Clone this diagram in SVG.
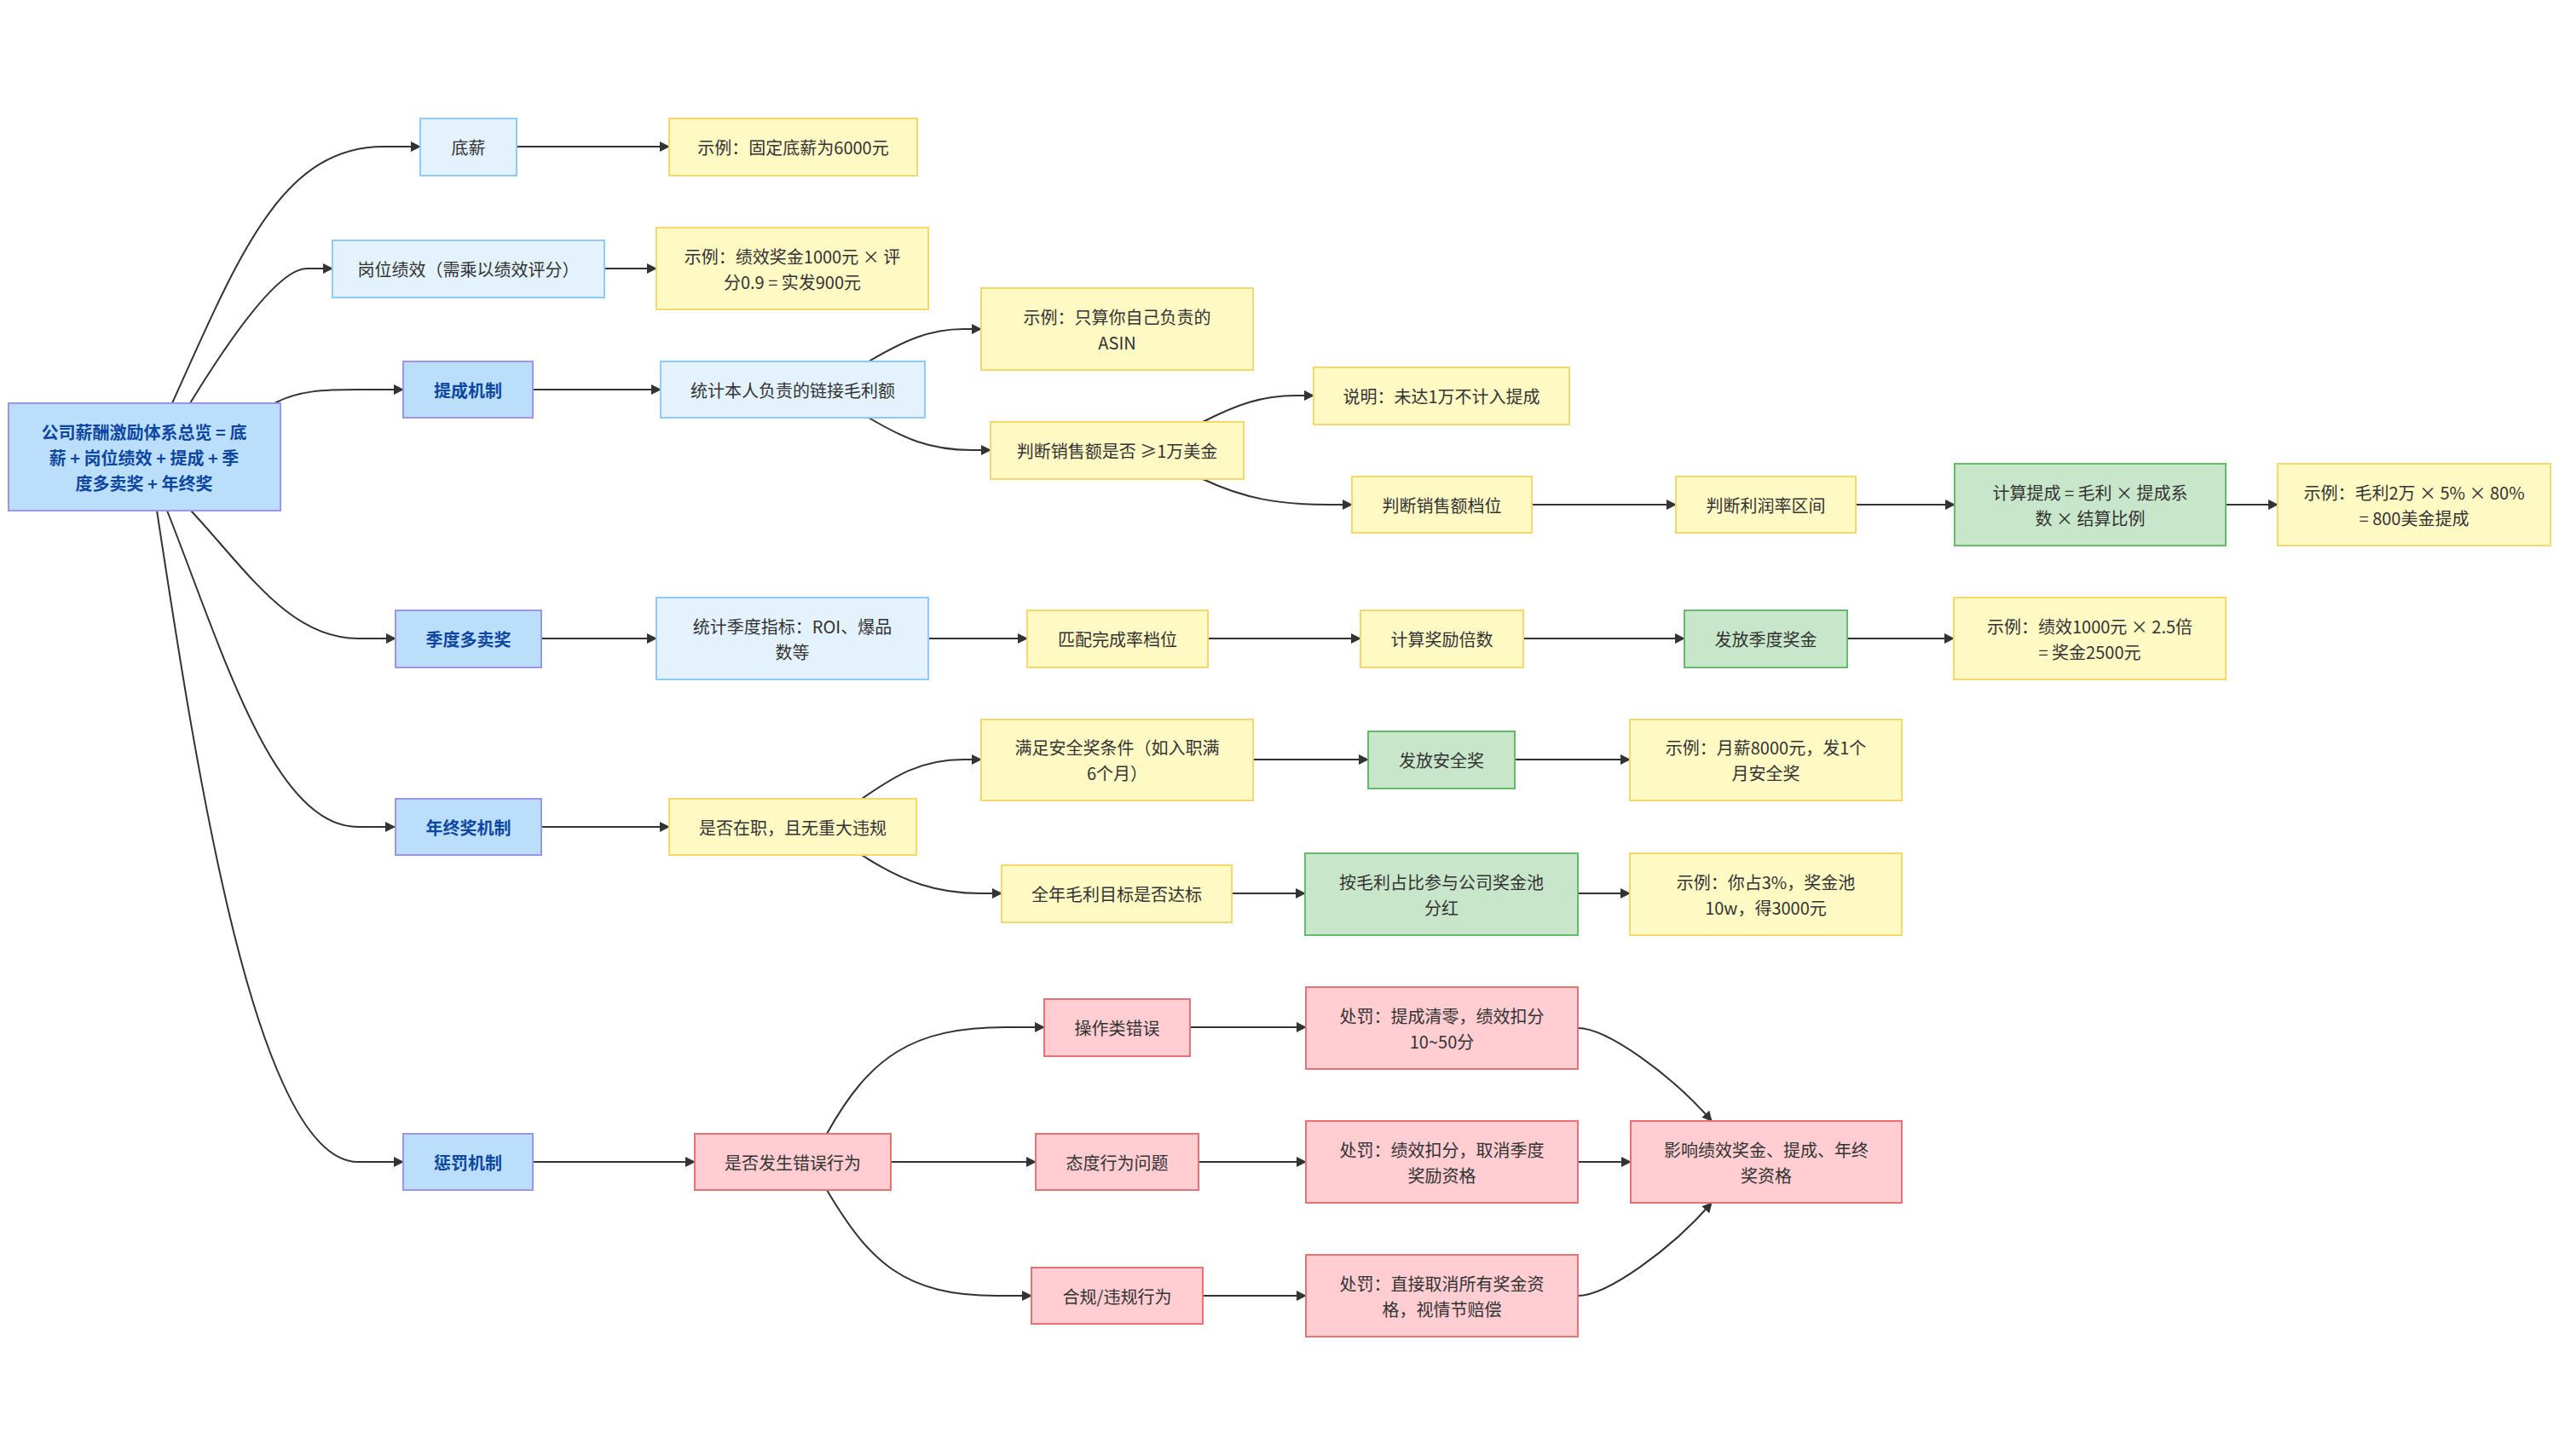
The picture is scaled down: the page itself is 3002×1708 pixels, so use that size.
<svg xmlns="http://www.w3.org/2000/svg" width="3002" height="1708" viewBox="0 0 3002 1708">
<style>
text{font-family:"Noto Sans CJK SC","Noto Sans",sans-serif;font-size:20px;fill:#333;text-anchor:middle;dominant-baseline:central}
.cat rect{fill:#bbdefb;stroke:#9e94e8;stroke-width:2}
.cat text{fill:#0d47a1;font-weight:bold}
.lb rect{fill:#e3f2fd;stroke:#90caf9;stroke-width:2}
.yl rect{fill:#fff9c4;stroke:#f5d76e;stroke-width:2}
.gr rect{fill:#c8e6c9;stroke:#66bb6a;stroke-width:2}
.pk rect{fill:#ffcdd2;stroke:#e57373;stroke-width:2}
#edges path{fill:none;stroke:#333;stroke-width:2;marker-end:url(#arr)}
</style>
<defs>
<marker id="arr" markerUnits="userSpaceOnUse" markerWidth="12" markerHeight="12" refX="11" refY="6" orient="auto">
<path d="M0,0 L12,6 L0,12 z" fill="#333"/>
</marker>
</defs>
<rect width="3002" height="1708" fill="#fff"/>
<g id="edges">
<path d="M202,473 C280,300 330,172 450,172 L493,172"/>
<path d="M223,473 C280,380 330,315 360,315 L390,315"/>
<path d="M322,473 C350,458 380,457 420,457 L473,457"/>
<path d="M224,599 C290,670 340,749 420,749 L464,749"/>
<path d="M196,599 C260,760 320,970 420,970 L463,970"/>
<path d="M184,599 C230,900 300,1363 420,1363 L473,1363"/>
<path d="M606,172 L785,172"/>
<path d="M709,315 L770,315"/>
<path d="M625,457 L775,457"/>
<path d="M1019,424 C1060,400 1090,386 1130,386 L1151,386"/>
<path d="M1019,490 C1060,514 1090,528 1140,528 L1162,528"/>
<path d="M1411,495 C1450,475 1480,464 1520,464 L1541,464"/>
<path d="M1411,562 C1460,585 1500,592 1560,592 L1586,592"/>
<path d="M1797,592 L1966,592"/>
<path d="M2177,592 L2293,592"/>
<path d="M2611,592 L2672,592"/>
<path d="M635,749 L770,749"/>
<path d="M1089,749 L1205,749"/>
<path d="M1417,749 L1596,749"/>
<path d="M1787,749 L1976,749"/>
<path d="M2167,749 L2292,749"/>
<path d="M635,970 L785,970"/>
<path d="M1011,937 C1050,910 1080,891 1130,891 L1151,891"/>
<path d="M1011,1003 C1060,1035 1100,1048 1150,1048 L1175,1048"/>
<path d="M1470,891 L1605,891"/>
<path d="M1777,891 L1912,891"/>
<path d="M1445,1048 L1531,1048"/>
<path d="M1851,1048 L1912,1048"/>
<path d="M625,1363 L815,1363"/>
<path d="M970,1330 C1020,1240 1070,1205 1180,1205 L1225,1205"/>
<path d="M1045,1363 L1215,1363"/>
<path d="M970,1396 C1020,1480 1060,1520 1170,1520 L1210,1520"/>
<path d="M1396,1205 L1532,1205"/>
<path d="M1406,1363 L1532,1363"/>
<path d="M1411,1520 L1532,1520"/>
<path d="M1851,1206 C1885,1206 1960,1260 2008,1315"/>
<path d="M1851,1363 L1913,1363"/>
<path d="M1851,1520 C1885,1520 1960,1466 2008,1411"/>
</g>
<g id="root" class="cat"><rect x="10" y="473" width="319" height="126"/><text x="169" y="506">公司薪酬激励体系总览 = 底</text><text x="169" y="536">薪 + 岗位绩效 + 提成 + 季</text><text x="169" y="566">度多卖奖 + 年终奖</text></g>
<g id="dixin" class="lb"><rect x="493" y="139" width="113" height="67"/><text x="549.5" y="172.5">底薪</text></g>
<g id="gangwei" class="lb"><rect x="390" y="282" width="319" height="67"/><text x="549.5" y="315.5">岗位绩效（需乘以绩效评分）</text></g>
<g id="ticheng" class="cat"><rect x="473" y="424" width="152" height="66"/><text x="549" y="457">提成机制</text></g>
<g id="jidu" class="cat"><rect x="464" y="716" width="171" height="67"/><text x="549.5" y="749.5">季度多卖奖</text></g>
<g id="nianzhong" class="cat"><rect x="464" y="937" width="171" height="66"/><text x="549.5" y="970">年终奖机制</text></g>
<g id="chengfa" class="cat"><rect x="473" y="1330" width="152" height="66"/><text x="549" y="1363">惩罚机制</text></g>
<g id="ex1" class="yl"><rect x="785" y="139" width="291" height="67"/><text x="930.5" y="172.5">示例：固定底薪为6000元</text></g>
<g id="ex2" class="yl"><rect x="770" y="267" width="319" height="96"/><text x="929.5" y="300">示例：绩效奖金1000元 × 评</text><text x="929.5" y="330">分0.9 = 实发900元</text></g>
<g id="tongji" class="lb"><rect x="775" y="424" width="310" height="66"/><text x="930" y="457">统计本人负责的链接毛利额</text></g>
<g id="asin" class="yl"><rect x="1151" y="338" width="319" height="96"/><text x="1310.5" y="371">示例：只算你自己负责的</text><text x="1310.5" y="401">ASIN</text></g>
<g id="panduan1" class="yl"><rect x="1162" y="495" width="297" height="67"/><text x="1310.5" y="528.5">判断销售额是否 ≥1万美金</text></g>
<g id="shuoming" class="yl"><rect x="1541" y="431" width="300" height="67"/><text x="1691" y="464.5">说明：未达1万不计入提成</text></g>
<g id="dangwei" class="yl"><rect x="1586" y="559" width="211" height="66"/><text x="1691.5" y="592">判断销售额档位</text></g>
<g id="lirun" class="yl"><rect x="1966" y="559" width="211" height="66"/><text x="2071.5" y="592">判断利润率区间</text></g>
<g id="jisuan" class="gr"><rect x="2293" y="544" width="318" height="96"/><text x="2452" y="577">计算提成 = 毛利 × 提成系</text><text x="2452" y="607">数 × 结算比例</text></g>
<g id="ex3" class="yl"><rect x="2672" y="544" width="320" height="96"/><text x="2832" y="577">示例：毛利2万 × 5% × 80%</text><text x="2832" y="607">= 800美金提成</text></g>
<g id="jiduzhibiao" class="lb"><rect x="770" y="701" width="319" height="96"/><text x="929.5" y="734">统计季度指标：ROI、爆品</text><text x="929.5" y="764">数等</text></g>
<g id="pipei" class="yl"><rect x="1205" y="716" width="212" height="67"/><text x="1311" y="749.5">匹配完成率档位</text></g>
<g id="beishu" class="yl"><rect x="1596" y="716" width="191" height="67"/><text x="1691.5" y="749.5">计算奖励倍数</text></g>
<g id="fafangjidu" class="gr"><rect x="1976" y="716" width="191" height="67"/><text x="2071.5" y="749.5">发放季度奖金</text></g>
<g id="ex4" class="yl"><rect x="2292" y="701" width="319" height="96"/><text x="2451.5" y="734">示例：绩效1000元 × 2.5倍</text><text x="2451.5" y="764">= 奖金2500元</text></g>
<g id="zaizhi" class="yl"><rect x="785" y="937" width="290" height="66"/><text x="930" y="970">是否在职，且无重大违规</text></g>
<g id="anquan" class="yl"><rect x="1151" y="844" width="319" height="95"/><text x="1310.5" y="876.5">满足安全奖条件（如入职满</text><text x="1310.5" y="906.5">6个月）</text></g>
<g id="fafanganquan" class="gr"><rect x="1605" y="858" width="172" height="67"/><text x="1691" y="891.5">发放安全奖</text></g>
<g id="ex5" class="yl"><rect x="1912" y="844" width="319" height="95"/><text x="2071.5" y="876.5">示例：月薪8000元，发1个</text><text x="2071.5" y="906.5">月安全奖</text></g>
<g id="quannian" class="yl"><rect x="1175" y="1015" width="270" height="67"/><text x="1310" y="1048.5">全年毛利目标是否达标</text></g>
<g id="fenhong" class="gr"><rect x="1531" y="1001" width="320" height="96"/><text x="1691" y="1034">按毛利占比参与公司奖金池</text><text x="1691" y="1064">分红</text></g>
<g id="ex6" class="yl"><rect x="1912" y="1001" width="319" height="96"/><text x="2071.5" y="1034">示例：你占3%，奖金池</text><text x="2071.5" y="1064">10w，得3000元</text></g>
<g id="cuowu" class="pk"><rect x="815" y="1330" width="230" height="66"/><text x="930" y="1363">是否发生错误行为</text></g>
<g id="caozuo" class="pk"><rect x="1225" y="1172" width="171" height="67"/><text x="1310.5" y="1205.5">操作类错误</text></g>
<g id="taidu" class="pk"><rect x="1215" y="1330" width="191" height="66"/><text x="1310.5" y="1363">态度行为问题</text></g>
<g id="hegui" class="pk"><rect x="1210" y="1487" width="201" height="66"/><text x="1310.5" y="1520">合规/违规行为</text></g>
<g id="cf1" class="pk"><rect x="1532" y="1158" width="319" height="96"/><text x="1691.5" y="1191">处罚：提成清零，绩效扣分</text><text x="1691.5" y="1221">10~50分</text></g>
<g id="cf2" class="pk"><rect x="1532" y="1315" width="319" height="96"/><text x="1691.5" y="1348">处罚：绩效扣分，取消季度</text><text x="1691.5" y="1378">奖励资格</text></g>
<g id="cf3" class="pk"><rect x="1532" y="1472" width="319" height="96"/><text x="1691.5" y="1505">处罚：直接取消所有奖金资</text><text x="1691.5" y="1535">格，视情节赔偿</text></g>
<g id="yingxiang" class="pk"><rect x="1913" y="1315" width="318" height="96"/><text x="2072" y="1348">影响绩效奖金、提成、年终</text><text x="2072" y="1378">奖资格</text></g>
</svg>
